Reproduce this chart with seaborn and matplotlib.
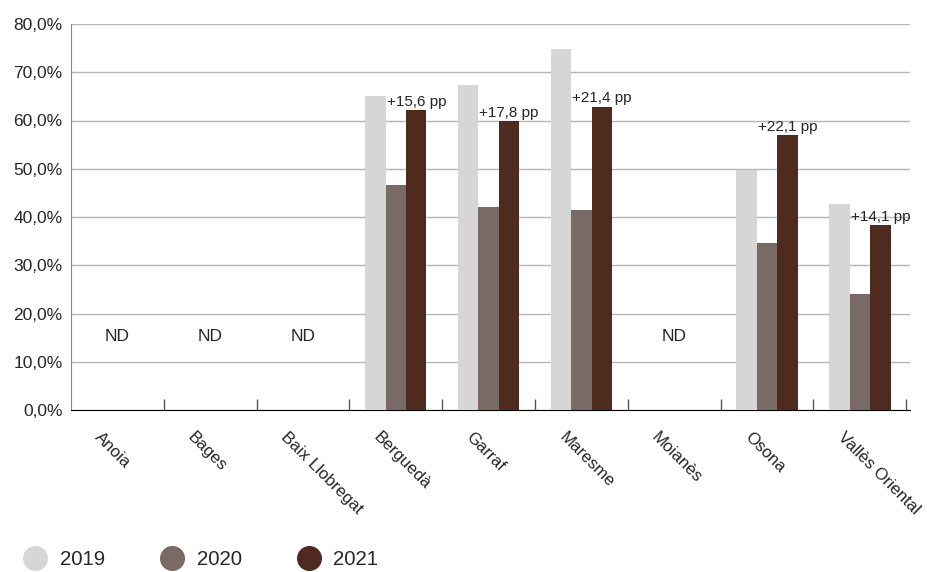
import pandas as pd
import numpy as np
import matplotlib.pyplot as plt
import matplotlib.transforms as mtransforms
from matplotlib.lines import Line2D
import seaborn as sns

# dades
comarques = ['Anoia', 'Bages', 'Baix Llobregat', 'Berguedà', 'Garraf',
             'Maresme', 'Moianès', 'Osona', 'Vallès Oriental']
anys = ['2019', '2020', '2021']
v2019 = [np.nan, np.nan, np.nan, 65.0, 67.4, 74.8, np.nan, 49.7, 42.7]
v2020 = [np.nan, np.nan, np.nan, 46.6, 42.1, 41.4, np.nan, 34.7, 24.1]
v2021 = [np.nan, np.nan, np.nan, 62.1, 59.9, 62.9, np.nan, 56.9, 38.3]
etiquetes_pp = ['', '', '', '+15,6 pp', '+17,8 pp', '+21,4 pp', '', '+22,1 pp', '+14,1 pp']
nd = ['ND', 'ND', 'ND', '', '', '', 'ND', '', '']

colors = {'2019': '#d6d6d6', '2020': '#7a6a66', '2021': '#4f2b1f'}

df = pd.DataFrame({
    'comarca': comarques * 3,
    'any': [a for a in anys for _ in comarques],
    'valor': v2019 + v2020 + v2021,
})

sns.set_style('white')
plt.rcParams['font.family'] = ['Liberation Sans', 'DejaVu Sans']

fig = plt.figure(figsize=(9.27, 5.72), dpi=100)
ax = fig.add_axes([71 / 927, 1 - 410 / 572, (910 - 71) / 927, (410 - 24) / 572])

sns.barplot(data=df, x='comarca', y='valor', hue='any', order=comarques,
            hue_order=anys, palette=colors, width=0.66, saturation=1,
            errorbar=None, ax=ax, legend=False, linewidth=0, zorder=3)

ax.set_xlim(-0.5, 8.54)
ax.set_ylim(0, 80)
ax.set_yticks(np.arange(0, 81, 10))
ax.set_yticklabels([f'{v:.1f}%'.replace('.', ',') for v in np.arange(0, 81, 10)],
                   fontsize=12.5)
ax.yaxis.grid(True, color='#b5b5b5', linewidth=1, zorder=0)
ax.set_axisbelow(True)
ax.set_xlabel('')
ax.set_ylabel('')
ax.tick_params(axis='y', length=0, pad=6)

for s in ['top', 'right']:
    ax.spines[s].set_visible(False)
ax.spines['left'].set_color('#8a8a8a')
ax.spines['bottom'].set_color('black')

# separadors entre comarques
ax.set_xticks(np.arange(0.5, 9, 1), minor=True)
ax.tick_params(axis='x', which='minor', bottom=True, direction='in', length=8,
               width=1, color='#555555')
ax.set_xticks(range(len(comarques)))
ax.set_xticklabels(comarques, rotation=-45, ha='left', va='center',
                   rotation_mode='anchor', fontsize=12.2)
ax.tick_params(axis='x', which='major', length=0, pad=18)
offset = mtransforms.ScaledTranslation(-20 / 100, 0, fig.dpi_scale_trans)
for lab in ax.get_xticklabels():
    lab.set_transform(lab.get_transform() + offset)

# etiquetes
for i, c in enumerate(comarques):
    if etiquetes_pp[i]:
        ax.text(i + 0.22, v2021[i] + 0.25, etiquetes_pp[i], ha='center',
                va='bottom', fontsize=11)
    if nd[i]:
        ax.text(i, 15.3, nd[i], ha='center', va='center', fontsize=12.5)

# llegenda
handles = [Line2D([0], [0], marker='o', linestyle='', markersize=17,
                  markerfacecolor=colors[a], markeredgecolor=colors[a]) for a in anys]
fig.legend(handles, anys, loc='lower left', bbox_to_anchor=(-0.004, -0.027),
           ncol=3, frameon=False, fontsize=14.7, handletextpad=0.2,
           columnspacing=2.3)

fig.savefig('out.png', dpi=100)
